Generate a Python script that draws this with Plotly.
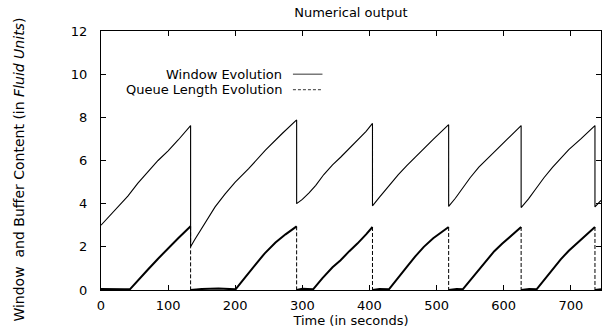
import plotly.graph_objects as go

# ---- data ----
window_t = [0, 12, 25, 40, 55, 70, 85, 100, 115, 133.5, 133.5,
            140, 150, 160, 170, 185, 200, 220, 245, 270, 291.5, 291.5,
            300, 310, 320, 332, 345, 357, 370, 382, 395, 404.5, 404.5,
            415, 430, 443, 456, 468, 480, 495, 518, 518,
            528, 538, 550, 563, 575, 588, 605, 626, 626,
            637, 648, 660, 673, 685, 697, 715, 736, 736, 745]
window_v = [3.0, 3.4, 3.85, 4.35, 4.95, 5.5, 6.0, 6.45, 6.95, 7.62, 2.0,
            2.35, 2.85, 3.35, 3.85, 4.45, 5.0, 5.62, 6.48, 7.25, 7.88, 4.0,
            4.2, 4.5, 4.85, 5.35, 5.8, 6.15, 6.55, 6.92, 7.35, 7.72, 3.9,
            4.3, 4.85, 5.35, 5.77, 6.15, 6.54, 6.98, 7.66, 3.87,
            4.25, 4.69, 5.2, 5.69, 6.08, 6.46, 6.98, 7.62, 3.82,
            4.22, 4.69, 5.2, 5.69, 6.1, 6.5, 7.0, 7.62, 3.85, 4.15]

queue_t = [0, 20, 35, 43, 55, 70, 85, 100, 115, 133.5, 133.5,
           150, 175, 200.5, 210, 219, 232, 244, 260, 275, 291.5, 291.5,
           300, 316, 330, 345, 357, 370, 382, 395, 404.5, 404.5,
           415, 429, 443, 456, 468, 481, 495, 518, 518,
           530, 539, 550, 563, 575, 586, 598, 610, 626, 626,
           638, 649, 660, 673, 685, 697, 710, 722, 736, 736, 745]
queue_v = [0.05, 0.06, 0.04, 0.03, 0.42, 0.95, 1.45, 1.95, 2.4, 2.95, 0,
           0.05, 0.07, 0.03, 0.4, 0.77, 1.25, 1.7, 2.2, 2.58, 2.95, 0,
           0.06, 0.03, 0.55, 1.05, 1.38, 1.8, 2.15, 2.58, 2.92, 0,
           0.05, 0.03, 0.55, 1.08, 1.55, 2.0, 2.4, 2.92, 0,
           0.05, 0.03, 0.45, 0.92, 1.4, 1.8, 2.15, 2.5, 2.92, 0,
           0.05, 0.03, 0.45, 0.95, 1.42, 1.82, 2.2, 2.55, 2.92, 0, 0.03]

x_ticks = [0, 100, 200, 300, 400, 500, 600, 700]
y_ticks = [0, 2, 4, 6, 8, 10, 12]
series_names = ["Window Evolution", "Queue Length Evolution"]

# split queue into ramps (solid, heavy) and drops (dashed)
ramp_x, ramp_y, drop_x, drop_y = [], [], [], []
for i in range(len(queue_t)):
    if i > 0 and queue_t[i] == queue_t[i - 1]:
        drop_x += [queue_t[i - 1], queue_t[i], None]
        drop_y += [queue_v[i - 1], queue_v[i], None]
        ramp_x.append(None)
        ramp_y.append(None)
    ramp_x.append(queue_t[i])
    ramp_y.append(queue_v[i])

FONT = "DejaVu Sans, Liberation Sans, Arial, sans-serif"

fig = go.Figure()
fig.add_trace(go.Scatter(x=window_t, y=window_v, mode="lines",
                         line=dict(color="black", width=1.1), name=series_names[0],
                         showlegend=False))
fig.add_trace(go.Scatter(x=ramp_x, y=ramp_y, mode="lines",
                         line=dict(color="black", width=2), name=series_names[1],
                         showlegend=False, connectgaps=False))
fig.add_trace(go.Scatter(x=drop_x, y=drop_y, mode="lines",
                         line=dict(color="black", width=1, dash="4px,2px"),
                         showlegend=False, connectgaps=False))

# gnuplot-style key: text right-aligned, sample to the right
key_rows = [(series_names[0], "solid"), (series_names[1], "3px,2px")]
for i, (name, dash) in enumerate(key_rows):
    yv = 10.0 - 0.72 * i
    fig.add_annotation(x=273, y=yv, xref="x", yref="y", text=name, showarrow=False,
                       xanchor="right", yanchor="middle",
                       font=dict(family=FONT, size=13, color="black"))
    fig.add_shape(type="line", x0=286, x1=330, y0=yv, y1=yv, xref="x", yref="y",
                  line=dict(color="black", width=0.8, dash=dash))

# y-axis title placed like the original (slightly below plot centre)
fig.add_annotation(x=-0.164, y=0.465, xref="paper", yref="paper",
                   text="Window  and Buffer Content (in <i>Fluid Units</i>)",
                   textangle=-90, showarrow=False, xanchor="center", yanchor="middle",
                   font=dict(family=FONT, size=14, color="black"))

fig.update_layout(
    width=607, height=332,
    margin=dict(l=101, r=6, t=31, b=42),
    paper_bgcolor="white", plot_bgcolor="white",
    font=dict(family=FONT, size=13, color="black"),
    title=dict(text="Numerical output", x=0.578, xanchor="center", y=0.963,
               yanchor="middle", font=dict(family=FONT, size=13)),
)
fig.update_xaxes(range=[0, 745], tickvals=x_ticks, ticks="inside", ticklen=5,
                 showline=True, linecolor="black", linewidth=1, mirror="ticks",
                 showgrid=False, zeroline=False, tickcolor="black",
                 ticklabelstandoff=3,
                 title=dict(text="Time (in seconds)", standoff=0,
                            font=dict(family=FONT, size=13)))
fig.update_yaxes(range=[0, 12], tickvals=y_ticks, ticks="inside", ticklen=5,
                 showline=True, linecolor="black", linewidth=1, mirror="ticks",
                 showgrid=False, zeroline=False, tickcolor="black",
                 ticklabelstandoff=10)

fig.write_html("out.html")
